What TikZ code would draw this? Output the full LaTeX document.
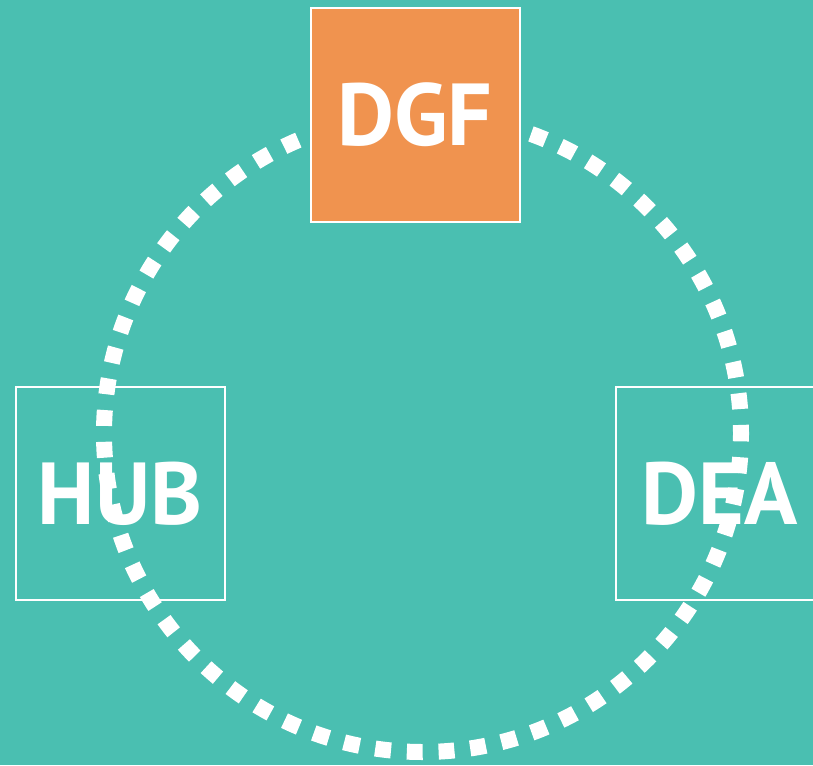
\documentclass[tikz,border=0pt]{standalone}
\usepackage{fontspec}
\setmainfont{PT Sans}
\definecolor{teal}{HTML}{4ABFB1}
\definecolor{orange}{HTML}{F0934F}
\tikzset{
  partner/.style={draw=white, line width=2pt, minimum width=209pt, minimum height=213pt,
    inner sep=0pt, text=white, font=\fontsize{88}{88}\bfseries\selectfont},
  ring/.style={white, line width=16pt, dash pattern=on 15.88pt off 15.88pt, dash phase=8pt}
}
\begin{document}
\begin{tikzpicture}[x=1pt,y=-1pt]
  \fill[teal] (0,0) rectangle (813,765);
  \useasboundingbox (0,0) rectangle (813,765);
  \foreach \n/\x/\t in {hub/120/HUB, dea/720/DEA}
    \node[partner] (\n) at (\x,493.5) {\t};
  \draw[ring] (422.5,433.5) circle (318.5);
  \node[partner, fill=orange] (dgf) at (415,115) {DGF};
\end{tikzpicture}
\end{document}
